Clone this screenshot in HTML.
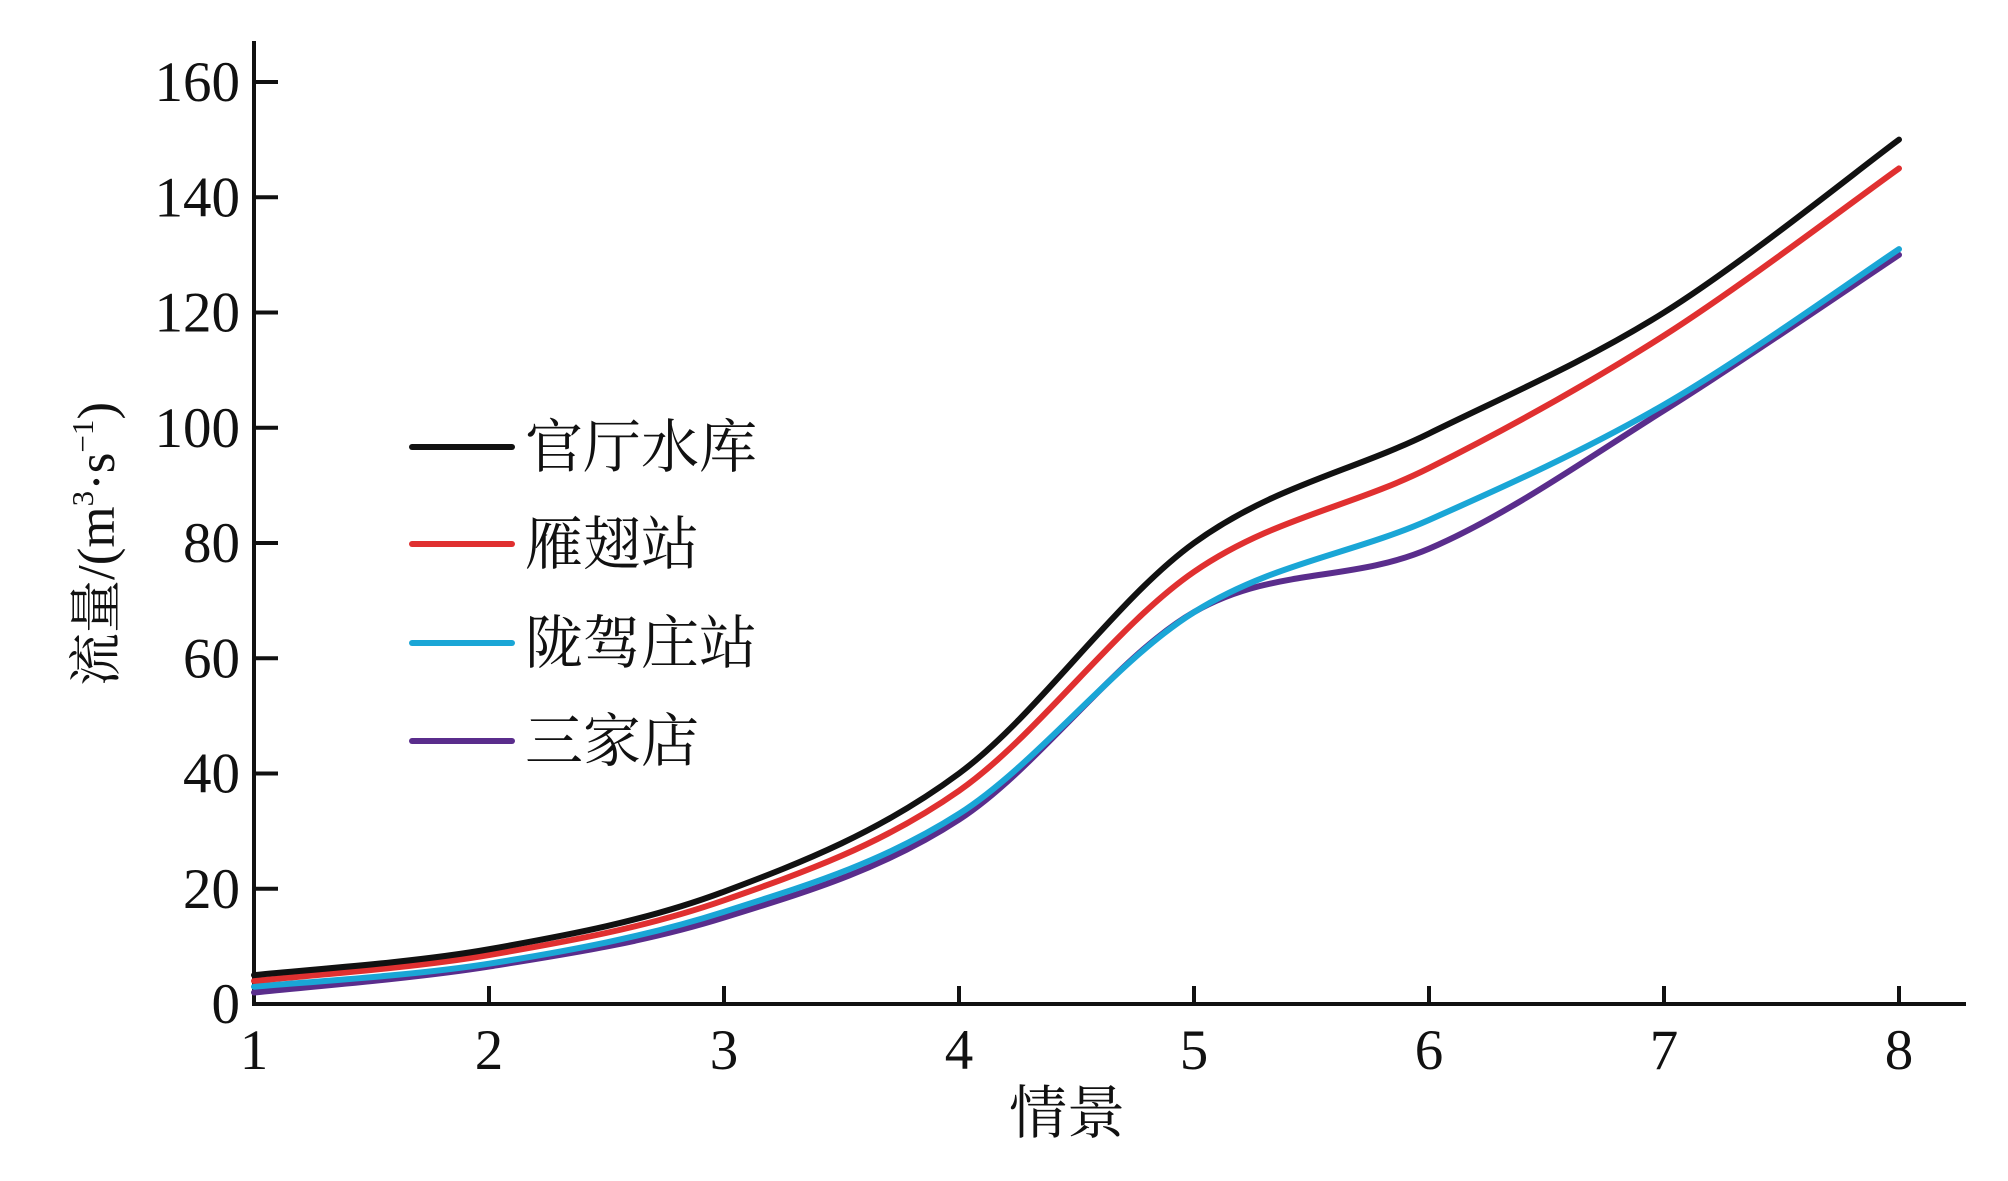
<!DOCTYPE html>
<html><head><meta charset="utf-8"><style>
html,body{margin:0;padding:0;background:#fff;}
svg{display:block;}
text{font-family:"Liberation Serif","Noto Serif CJK SC",serif;fill:#111;}
</style></head><body>
<svg id="s" width="2008" height="1181" viewBox="0 0 2008 1181" xmlns="http://www.w3.org/2000/svg">
<g stroke="#111" stroke-width="4" fill="none">
<line x1="254" y1="41" x2="254" y2="1006"/>
<line x1="252" y1="1004" x2="1966" y2="1004"/>
</g>
<g id="ticks" stroke="#111" stroke-width="4"></g>
<g id="labels" font-size="57" text-anchor="end"></g>
<g id="xl" font-size="57" text-anchor="middle"></g>
<g id="series" fill="none" stroke-width="6" stroke-linecap="round"></g>
<g stroke-width="6" stroke-linecap="round">
<line x1="412" y1="447" x2="512" y2="447" stroke="#111"/>
<line x1="412" y1="544" x2="512" y2="544" stroke="#e03030"/>
<line x1="412" y1="643" x2="512" y2="643" stroke="#1aa6d6"/>
<line x1="412" y1="741" x2="512" y2="741" stroke="#5a2d8c"/>
</g>
<g font-size="58" style="font-family:'Noto Serif CJK SC',serif">
<text x="525" y="467">官厅水库</text>
<text x="525" y="564">雁翅站</text>
<text x="525" y="663">陇驾庄站</text>
<text x="525" y="761">三家店</text>
</g>
<text x="1067" y="1133" font-size="58" text-anchor="middle" style="font-family:'Noto Serif CJK SC',serif">情景</text>
<text transform="translate(114,544) rotate(-90)" font-size="53" text-anchor="middle"><tspan style="font-family:'Noto Serif CJK SC',serif">流量</tspan>/(m<tspan font-size="31" dy="-21">3</tspan><tspan dy="21">·s</tspan><tspan font-size="31" dy="-21">−1</tspan><tspan dy="21">)</tspan></text>
</svg>
<script>
var X=function(v){return 254+(v-1)*235;},Y=function(v){return 1004-v*5.7625;};
var ns="http://www.w3.org/2000/svg";
function el(p,n,a,t){var e=document.createElementNS(ns,n);for(var k in a)e.setAttribute(k,a[k]);if(t!==undefined)e.textContent=t;document.getElementById(p).appendChild(e);}
for(var v=0;v<=160;v+=20){el("ticks","line",{x1:254,x2:278,y1:Y(v),y2:Y(v)});el("labels","text",{x:240,y:Y(v)+19},v);}
for(var i=1;i<=8;i++){if(i>1)el("ticks","line",{x1:X(i),x2:X(i),y1:1004,y2:986});el("xl","text",{x:X(i),y:1069},i);}
var S=[["#5a2d8c",[2,6.5,15,32,68,79,103,130]],["#1aa6d6",[3,7,16,33,68,84,104,131]],["#e03030",[4,8.5,18,37,75,93,116,145]],["#111",[5,9.5,19.5,40,80,99,120,150]]];
S.forEach(function(s){var d=s[1],p=[];for(var i=0;i<8;i++)p.push([X(i+1),Y(d[i])]);
var str="M"+p[0][0]+","+p[0][1];
for(var i=0;i<7;i++){var p0=p[Math.max(0,i-1)],p1=p[i],p2=p[i+1],p3=p[Math.min(7,i+2)];
var c1=[p1[0]+(p2[0]-p0[0])/6,p1[1]+(p2[1]-p0[1])/6],c2=[p2[0]-(p3[0]-p1[0])/6,p2[1]-(p3[1]-p1[1])/6];
str+=" C"+c1+" "+c2+" "+p2;}
el("series","path",{d:str,stroke:s[0]});});
</script>
</body></html>
